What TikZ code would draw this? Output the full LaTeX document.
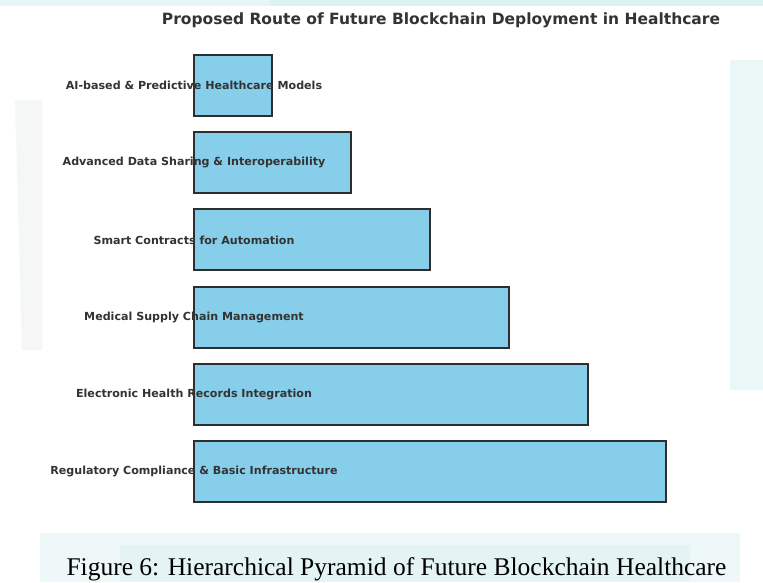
\documentclass[tikz,border=0pt]{standalone}
\usepackage{fontspec}
\setmainfont{DejaVu Sans}
\newfontfamily\capfont{Liberation Serif}
\definecolor{skyb}{HTML}{87CEEB}
\definecolor{txt}{HTML}{333333}
\definecolor{wm}{HTML}{DDF1F2}
\definecolor{wmg}{HTML}{E6ECEC}
\begin{document}
\begin{tikzpicture}[x=1pt,y=-1pt,
  bar/.style={draw=txt!90!black,line width=1.1pt,fill=skyb},
  lab/.style={font=\bfseries\fontsize{11.1}{13}\selectfont,text=txt,inner sep=0pt},
  ttl/.style={font=\bfseries\fontsize{15.5}{18}\selectfont,text=txt,inner sep=0pt}]
\useasboundingbox (0,0) rectangle (763,582);
\fill[white] (0,0) rectangle (763,582);
% faint watermark background
\fill[wm!70] (0,0) rectangle (763,6);
\fill[wm] (270,0) rectangle (763,6);
\fill[wmg!40] (15,100) -- (42,100) -- (42,350) -- (22,350) -- cycle;
\fill[wm!60] (730,60) -- (763,60) -- (763,390) -- (730,390) -- cycle;
\fill[wm!50] (40,533) rectangle (740,582);
\fill[wm!80] (120,545) rectangle (690,582);
% title
\node[ttl] (title) at (441,20) {Proposed Route of Future Blockchain Deployment in Healthcare};
% bars
\draw[bar] (194,441) rectangle (666,502);
\draw[bar] (194,364) rectangle (588,425);
\draw[bar] (194,287) rectangle (509,348);
\draw[bar] (194,209) rectangle (430,270);
\draw[bar] (194,132) rectangle (351,193);
\draw[bar] (194,55) rectangle (272,116);
% labels
\node[lab] (l6) at (194,471) {Regulatory Compliance \& Basic Infrastructure};
\node[lab] (l5) at (194,394) {Electronic Health Records Integration};
\node[lab] (l4) at (194,317) {Medical Supply Chain Management};
\node[lab] (l3) at (194,240) {Smart Contracts for Automation};
\node[lab] (l2) at (194,162) {Advanced Data Sharing \& Interoperability};
\node[lab] (l1) at (194,85) {AI-based \& Predictive Healthcare Models};
% caption
\node[font=\capfont\fontsize{25.5}{28}\selectfont,inner sep=0pt,anchor=base] (cap) at (396.5,575.5) {Figure 6: Hierarchical Pyramid of Future Blockchain Healthcare};
\end{tikzpicture}
\end{document}
